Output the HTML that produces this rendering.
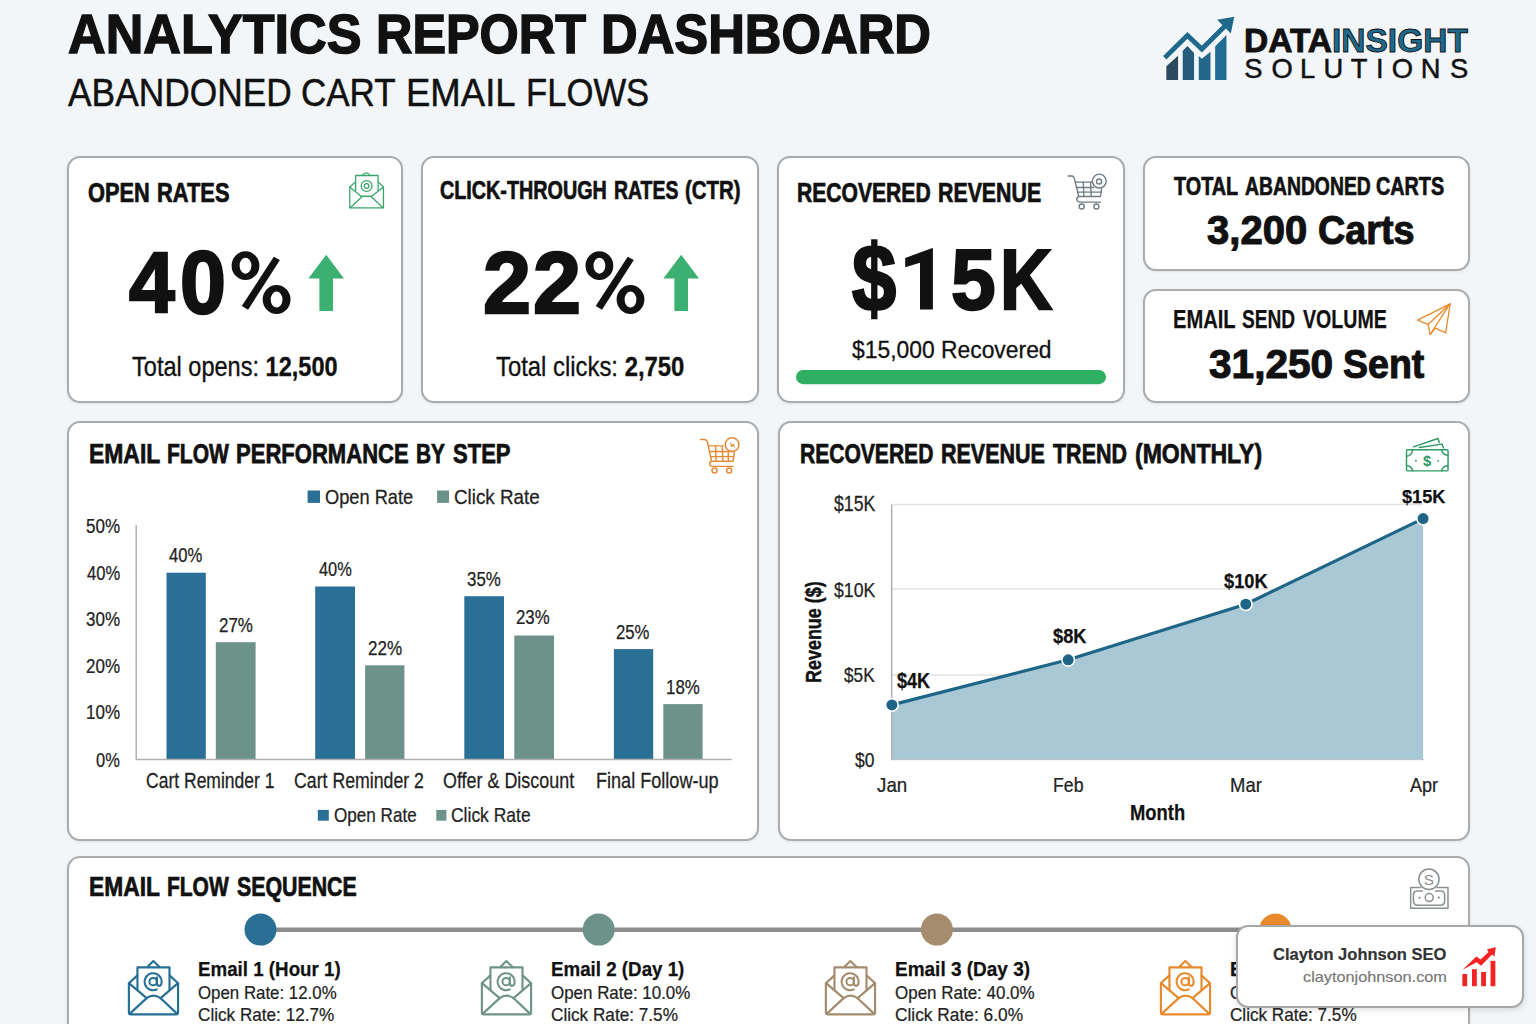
<!DOCTYPE html>
<html><head><meta charset="utf-8"><title>Analytics Report Dashboard</title>
<style>
html,body{margin:0;padding:0}
body{width:1536px;height:1024px;overflow:hidden;position:relative;background:#f3f6f9;font-family:"Liberation Sans",sans-serif}
.t{position:absolute;white-space:nowrap;line-height:1;transform-origin:0 0}
.card{position:absolute;box-sizing:border-box;background:#fff;border:2px solid #a9abad;box-shadow:0 1px 3px rgba(0,0,0,0.08)}
svg{position:absolute;overflow:visible}
</style></head><body>
<div class="card" style="left:67px;top:156px;width:336px;height:247px;border-radius:13px;"></div>
<div class="card" style="left:421px;top:156px;width:338px;height:247px;border-radius:13px;"></div>
<div class="card" style="left:777px;top:156px;width:347.5px;height:247px;border-radius:13px;"></div>
<div class="card" style="left:1143px;top:156px;width:326.5px;height:114.5px;border-radius:13px;"></div>
<div class="card" style="left:1143px;top:288.5px;width:326.5px;height:114.5px;border-radius:13px;"></div>
<div class="card" style="left:67px;top:421px;width:691.5px;height:419.5px;border-radius:13px;"></div>
<div class="card" style="left:777.5px;top:421px;width:692px;height:419.5px;border-radius:13px;"></div>
<div class="card" style="left:67px;top:855.5px;width:1403px;height:204.5px;border-radius:13px;"></div>
<svg style="left:0;top:0" width="1536" height="1024" viewBox="0 0 1536 1024"><line x1="136.2" y1="525" x2="136.2" y2="759.6" stroke="#b0b0b0" stroke-width="1.5"/><rect x="166.5" y="572.7" width="39.3" height="186.9" fill="#2a6f96"/><rect x="215.8" y="642.2" width="39.8" height="117.4" fill="#6d9289"/><rect x="315.2" y="586.5" width="39.8" height="173.1" fill="#2a6f96"/><rect x="365.1" y="665.3" width="39.3" height="94.3" fill="#6d9289"/><rect x="464.3" y="596.2" width="39.7" height="163.4" fill="#2a6f96"/><rect x="514.3" y="635.5" width="39.7" height="124.1" fill="#6d9289"/><rect x="613.9" y="649.1" width="39.3" height="110.5" fill="#2a6f96"/><rect x="663.3" y="704.1" width="39.3" height="55.5" fill="#6d9289"/><line x1="136" y1="759.6" x2="731.7" y2="759.6" stroke="#b0b0b0" stroke-width="1.5"/><rect x="307.6" y="490.5" width="12.4" height="12.4" fill="#2a6f96"/><rect x="437.1" y="490.5" width="11.9" height="12.4" fill="#6d9289"/><rect x="317.8" y="809.9" width="11" height="10.8" fill="#2a6f96"/><rect x="436.3" y="809.9" width="10.1" height="10.8" fill="#6d9289"/><line x1="891.7" y1="504.6" x2="1423" y2="504.6" stroke="#e3e3e3" stroke-width="1.5"/><line x1="891.7" y1="589" x2="1423" y2="589" stroke="#e3e3e3" stroke-width="1.5"/><line x1="891.7" y1="674.9" x2="1423" y2="674.9" stroke="#e3e3e3" stroke-width="1.5"/><polygon points="891.9,704.9 1068.2,659.8 1245.8,604.2 1423.1,518.6 1423.1,759.7 891.9,759.7" fill="#a9c8d6"/><line x1="891.7" y1="504.6" x2="891.7" y2="759.7" stroke="#b0b0b0" stroke-width="1.5"/><line x1="891" y1="759.7" x2="1424" y2="759.7" stroke="#b5c2c8" stroke-width="1"/><polyline points="891.9,704.9 1068.2,659.8 1245.8,604.2 1423.1,518.6" fill="none" stroke="#1e6587" stroke-width="3.2" stroke-linejoin="round"/><circle cx="891.9" cy="704.9" r="6.3" fill="#1e6587" stroke="#fff" stroke-width="1.6"/><circle cx="1068.2" cy="659.8" r="6.3" fill="#1e6587" stroke="#fff" stroke-width="1.6"/><circle cx="1245.8" cy="604.2" r="6.3" fill="#1e6587" stroke="#fff" stroke-width="1.6"/><circle cx="1423.1" cy="518.6" r="6.3" fill="#1e6587" stroke="#fff" stroke-width="1.6"/><polygon points="932.9,248.2 932.9,309.5 920,309.5 920,262.7 905.2,267.3 905.2,258 931.7,248.2" fill="#111"/><path fill-rule="evenodd" fill="#111" d="M231.6,265.65 a13.9,14.45 0 1,0 27.8,0 a13.9,14.45 0 1,0 -27.8,0 Z M239.6,265.65 a5.9,8 0 1,0 11.8,0 a5.9,8 0 1,0 -11.8,0 Z"/><path fill-rule="evenodd" fill="#111" d="M262.7,299.55 a13.9,14.45 0 1,0 27.8,0 a13.9,14.45 0 1,0 -27.8,0 Z M270.7,299.55 a5.9,8 0 1,0 11.8,0 a5.9,8 0 1,0 -11.8,0 Z"/><polygon points="273.8,256.7 279.9,260 248.1,309.8 241.8,306.1" fill="#111"/><path fill-rule="evenodd" fill="#111" d="M585.5,265.65 a13.9,14.45 0 1,0 27.8,0 a13.9,14.45 0 1,0 -27.8,0 Z M593.5,265.65 a5.9,8 0 1,0 11.8,0 a5.9,8 0 1,0 -11.8,0 Z"/><path fill-rule="evenodd" fill="#111" d="M616.6,299.55 a13.9,14.45 0 1,0 27.8,0 a13.9,14.45 0 1,0 -27.8,0 Z M624.6,299.55 a5.9,8 0 1,0 11.8,0 a5.9,8 0 1,0 -11.8,0 Z"/><polygon points="627.7,256.7 633.8,260 602,309.8 595.7,306.1" fill="#111"/><rect x="796" y="370" width="310" height="14.2" rx="7.1" fill="#2faf61"/><polygon points="326.2,254.8 344,278.5 333,278.5 333,311 319.4,311 319.4,278.5 308.4,278.5" fill="#3bb070"/><polygon points="681.2,254.8 699,278.5 688,278.5 688,311 674.4,311 674.4,278.5 663.4,278.5" fill="#3bb070"/><line x1="260" y1="929.8" x2="1300" y2="929.8" stroke="#8d8d8d" stroke-width="4.5"/><circle cx="260.5" cy="929.6" r="16" fill="#2a6f96"/><circle cx="598.7" cy="929.6" r="16" fill="#6d9289"/><circle cx="936.9" cy="929.6" r="16" fill="#a58c6c"/><circle cx="1275.4" cy="929.6" r="16" fill="#e8892c"/></svg>
<svg style="left:1155px;top:10px" width="90" height="80" viewBox="0 0 1152 1024">
<path d="M145,720 L295,585 L295,895 L145,895 Z" fill="#2c4a5c"/>
<path d="M355,520 L415,460 L500,550 L500,895 L355,895 Z" fill="#245c7a"/>
<path d="M560,590 L600,625 L710,535 L710,895 L560,895 Z" fill="#22668a"/>
<path d="M770,465 L915,320 L915,895 L770,895 Z" fill="#206d94"/>
<polyline points="125,610 415,325 600,500 915,185" fill="none" stroke="#1f6a8c" stroke-width="62"/>
<path d="M795,125 L1015,85 L970,300 Z" fill="#1f6a8c"/>
</svg>
<svg style="left:340px;top:165px" width="52" height="50" viewBox="0 0 1065 1024"><g fill="none" stroke="#3aa56a" stroke-width="26" stroke-linejoin="round" stroke-linecap="round">
<path d="M200,450 L200,880 L890,880 L890,450"/>
<path d="M200,450 L320,345 M890,450 L780,345"/>
<path d="M320,520 L320,215 L780,215 L780,520"/>
<path d="M455,210 Q545,110 610,210"/>
<path d="M205,455 L430,640 L650,640 L885,455"/>
<path d="M215,870 L450,650 M875,870 L640,650"/>
<circle cx="545" cy="430" r="112"/>
<circle cx="545" cy="430" r="48"/>
</g></svg>
<svg style="left:1060px;top:165px" width="52" height="50" viewBox="0 0 1065 1024"><g fill="none" stroke="#6e7d82" stroke-width="28" stroke-linejoin="round" stroke-linecap="round">
<path d="M165,225 L250,225 Q285,230 300,300 L385,645 L830,645 L850,490"/>
<path d="M310,350 L650,350"/>
<path d="M335,460 L690,460 M360,555 L845,555"/>
<path d="M475,350 L490,645 M625,350 L640,645"/>
<path d="M385,645 Q335,665 345,710 Q355,760 420,760 L830,760"/>
<circle cx="445" cy="850" r="52"/>
<circle cx="745" cy="850" r="52"/>
<circle cx="805" cy="330" r="142"/>
<circle cx="800" cy="338" r="52"/>
</g></svg>
<svg style="left:694px;top:430px" width="52" height="50" viewBox="0 0 1065 1024"><g fill="none" stroke="#e58b37" stroke-width="30" stroke-linejoin="round" stroke-linecap="round">
<path d="M135,195 L225,195 Q265,200 280,270 L360,640 L800,640 L825,470"/>
<path d="M300,325 L600,325"/>
<path d="M320,440 L830,440 M340,545 L815,545"/>
<path d="M440,325 L455,640 M580,345 L590,640 M700,440 L705,640"/>
<path d="M360,640 Q310,660 320,705 Q330,745 390,745 L800,745"/>
<circle cx="420" cy="830" r="52"/>
<circle cx="720" cy="830" r="52"/>
<circle cx="780" cy="300" r="140"/>
<path d="M745,265 L770,340 L800,290 L830,345" stroke-width="22"/>
</g></svg>
<svg style="left:1410px;top:298px" width="48" height="44" viewBox="0 0 1117 1024"><g fill="none" stroke="#e8892a" stroke-width="30" stroke-linejoin="round" stroke-linecap="round">
<path d="M175,515 L935,135 L830,810 L590,700 L470,850 L420,615 Z"/>
<path d="M420,615 L935,135 M470,850 L920,150"/>
</g></svg>
<svg style="left:1400px;top:432px" width="56" height="46" viewBox="0 0 1247 1024"><g fill="none" stroke="#2e9a63" stroke-width="32" stroke-linejoin="round" stroke-linecap="round">
<rect x="145" y="395" width="925" height="470" rx="22"/>
<path d="M300,330 L845,145 L875,235 M430,345 L935,270 L970,355"/>
<path d="M145,540 Q265,530 280,400 M1070,520 Q940,510 925,400 M145,745 Q265,760 285,865 M1070,750 Q940,760 925,865"/>
</g>
<circle cx="355" cy="640" r="20" fill="#2e9a63"/><circle cx="850" cy="645" r="20" fill="#2e9a63"/>
<text x="605" y="765" font-family="Liberation Sans" font-weight="700" font-size="330" text-anchor="middle" fill="#2e9a63">$</text></svg>
<svg style="left:1400px;top:862px" width="56" height="52" viewBox="0 0 1103 1024"><g fill="none" stroke="#8b9092" stroke-width="30" stroke-linejoin="round">
<circle cx="570" cy="340" r="200"/>
<path d="M420,500 L210,500 L210,910 L945,910 L945,500 L720,500"/>
<path d="M450,570 L330,570 Q265,575 265,650 L265,770 Q270,845 340,850 L810,850 Q880,845 880,770 L880,650 Q875,570 810,570 L690,570"/>
<circle cx="575" cy="700" r="78"/>
</g>
<circle cx="385" cy="705" r="22" fill="#8b9092"/><circle cx="765" cy="700" r="22" fill="#8b9092"/>
<text x="570" y="455" font-family="Liberation Sans" font-size="300" text-anchor="middle" fill="#8b9092">S</text></svg>
<svg style="left:120px;top:955px" width="70" height="65" viewBox="0 0 1103 1024"><g fill="none" stroke="#256f95" stroke-width="34" stroke-linejoin="round" stroke-linecap="round">
<path d="M140,445 L140,905 Q140,935 170,935 L885,935 Q915,935 915,905 L915,445"/>
<path d="M140,445 L270,325 M915,445 L785,325"/>
<path d="M275,545 L275,195 L780,195 L780,545"/>
<path d="M435,185 L525,95 L620,185"/>
<path d="M150,450 L420,680 M905,450 L640,680"/>
<path d="M420,680 Q525,600 640,680"/>
<path d="M160,920 L420,680 M895,920 L640,680"/>
</g>
<g fill="none" stroke="#256f95" stroke-width="32" stroke-linecap="round">
<circle cx="522" cy="420" r="58"/>
<path d="M582,352 L582,450 Q586,488 622,486 Q655,480 656,420 A134,134 0 1 0 580,541"/>
</g></svg>
<svg style="left:472.7px;top:955px" width="70" height="65" viewBox="0 0 1103 1024"><g fill="none" stroke="#6f9389" stroke-width="34" stroke-linejoin="round" stroke-linecap="round">
<path d="M140,445 L140,905 Q140,935 170,935 L885,935 Q915,935 915,905 L915,445"/>
<path d="M140,445 L270,325 M915,445 L785,325"/>
<path d="M275,545 L275,195 L780,195 L780,545"/>
<path d="M435,185 L525,95 L620,185"/>
<path d="M150,450 L420,680 M905,450 L640,680"/>
<path d="M420,680 Q525,600 640,680"/>
<path d="M160,920 L420,680 M895,920 L640,680"/>
</g>
<g fill="none" stroke="#6f9389" stroke-width="32" stroke-linecap="round">
<circle cx="522" cy="420" r="58"/>
<path d="M582,352 L582,450 Q586,488 622,486 Q655,480 656,420 A134,134 0 1 0 580,541"/>
</g></svg>
<svg style="left:817.2px;top:955px" width="70" height="65" viewBox="0 0 1103 1024"><g fill="none" stroke="#a38c6d" stroke-width="34" stroke-linejoin="round" stroke-linecap="round">
<path d="M140,445 L140,905 Q140,935 170,935 L885,935 Q915,935 915,905 L915,445"/>
<path d="M140,445 L270,325 M915,445 L785,325"/>
<path d="M275,545 L275,195 L780,195 L780,545"/>
<path d="M435,185 L525,95 L620,185"/>
<path d="M150,450 L420,680 M905,450 L640,680"/>
<path d="M420,680 Q525,600 640,680"/>
<path d="M160,920 L420,680 M895,920 L640,680"/>
</g>
<g fill="none" stroke="#a38c6d" stroke-width="32" stroke-linecap="round">
<circle cx="522" cy="420" r="58"/>
<path d="M582,352 L582,450 Q586,488 622,486 Q655,480 656,420 A134,134 0 1 0 580,541"/>
</g></svg>
<svg style="left:1151.7px;top:955px" width="70" height="65" viewBox="0 0 1103 1024"><g fill="none" stroke="#e78a2e" stroke-width="34" stroke-linejoin="round" stroke-linecap="round">
<path d="M140,445 L140,905 Q140,935 170,935 L885,935 Q915,935 915,905 L915,445"/>
<path d="M140,445 L270,325 M915,445 L785,325"/>
<path d="M275,545 L275,195 L780,195 L780,545"/>
<path d="M435,185 L525,95 L620,185"/>
<path d="M150,450 L420,680 M905,450 L640,680"/>
<path d="M420,680 Q525,600 640,680"/>
<path d="M160,920 L420,680 M895,920 L640,680"/>
</g>
<g fill="none" stroke="#e78a2e" stroke-width="32" stroke-linecap="round">
<circle cx="522" cy="420" r="58"/>
<path d="M582,352 L582,450 Q586,488 622,486 Q655,480 656,420 A134,134 0 1 0 580,541"/>
</g></svg>
<div class="t" style="left:68.00px;top:7.11px;font-size:55.24px;font-weight:700;color:#111;transform:scaleX(0.9435);-webkit-text-stroke:1.49px #111">ANALYTICS</div>
<div class="t" style="left:376.36px;top:7.11px;font-size:55.24px;font-weight:700;color:#111;transform:scaleX(0.9123);-webkit-text-stroke:1.49px #111">REPORT</div>
<div class="t" style="left:600.94px;top:7.11px;font-size:55.24px;font-weight:700;color:#111;transform:scaleX(0.9192);-webkit-text-stroke:1.49px #111">DASHBOARD</div>
<div class="t" style="left:67.80px;top:73.69px;font-size:38.42px;font-weight:400;color:#111;transform:scaleX(0.9202);-webkit-text-stroke:0.47px #111">ABANDONED</div>
<div class="t" style="left:301.38px;top:73.69px;font-size:38.42px;font-weight:400;color:#111;transform:scaleX(0.9108);-webkit-text-stroke:0.47px #111">CART</div>
<div class="t" style="left:405.95px;top:73.69px;font-size:38.42px;font-weight:400;color:#111;transform:scaleX(0.9509);-webkit-text-stroke:0.47px #111">EMAIL</div>
<div class="t" style="left:526.29px;top:73.69px;font-size:38.42px;font-weight:400;color:#111;transform:scaleX(0.9023);-webkit-text-stroke:0.47px #111">FLOWS</div>
<div class="t" style="left:1244.33px;top:22.82px;font-size:33.99px;font-weight:700;color:#111;transform:scaleX(0.9853);-webkit-text-stroke:0.92px #111">DATA<span style="color:#1f6a8c">INSIGHT</span></div>
<div class="t" style="left:87.50px;top:179.10px;font-size:27.27px;font-weight:700;color:#111;transform:scaleX(0.7987);-webkit-text-stroke:0.74px #111">OPEN</div>
<div class="t" style="left:156.80px;top:179.10px;font-size:27.27px;font-weight:700;color:#111;transform:scaleX(0.8022);-webkit-text-stroke:0.74px #111">RATES</div>
<div class="t" style="left:129.40px;top:240.34px;font-size:85.73px;font-weight:700;color:#111;transform:scaleX(0.9604);-webkit-text-stroke:2.32px #111">4</div>
<div class="t" style="left:179.82px;top:239.09px;font-size:88.11px;font-weight:700;color:#111;transform:scaleX(0.9378);-webkit-text-stroke:2.38px #111">0</div>
<div class="t" style="left:132.00px;top:352.62px;font-size:27.13px;font-weight:400;color:#111;transform:scaleX(0.8686);-webkit-text-stroke:0.33px #111">Total opens: <b>12,500</b></div>
<div class="t" style="left:439.93px;top:177.95px;font-size:25.59px;font-weight:700;color:#111;transform:scaleX(0.7724);-webkit-text-stroke:0.69px #111">CLICK-THROUGH</div>
<div class="t" style="left:613.54px;top:177.95px;font-size:25.59px;font-weight:700;color:#111;transform:scaleX(0.7590);-webkit-text-stroke:0.69px #111">RATES</div>
<div class="t" style="left:684.80px;top:177.95px;font-size:25.59px;font-weight:700;color:#111;transform:scaleX(0.7971);-webkit-text-stroke:0.69px #111">(CTR)</div>
<div class="t" style="left:483.21px;top:239.26px;font-size:86.99px;font-weight:700;color:#111;transform:scaleX(0.9932);-webkit-text-stroke:2.35px #111">2</div>
<div class="t" style="left:533.21px;top:239.26px;font-size:86.99px;font-weight:700;color:#111;transform:scaleX(0.9932);-webkit-text-stroke:2.35px #111">2</div>
<div class="t" style="left:496.00px;top:352.62px;font-size:27.13px;font-weight:400;color:#111;transform:scaleX(0.8798);-webkit-text-stroke:0.33px #111">Total clicks: <b>2,750</b></div>
<div class="t" style="left:797.03px;top:179.10px;font-size:27.27px;font-weight:700;color:#111;transform:scaleX(0.7737);-webkit-text-stroke:0.74px #111">RECOVERED</div>
<div class="t" style="left:938.22px;top:179.10px;font-size:27.27px;font-weight:700;color:#111;transform:scaleX(0.7824);-webkit-text-stroke:0.74px #111">REVENUE</div>
<div class="t" style="left:851.70px;top:231.59px;font-size:94.26px;font-weight:700;color:#111;transform:scaleX(0.8423);-webkit-text-stroke:2.55px #111">$</div>
<div class="t" style="left:950.77px;top:236.96px;font-size:85.94px;font-weight:700;color:#111;transform:scaleX(0.9348);-webkit-text-stroke:2.32px #111">5</div>
<div class="t" style="left:999.91px;top:237.06px;font-size:85.24px;font-weight:700;color:#111;transform:scaleX(0.8475);-webkit-text-stroke:2.30px #111">K</div>
<div class="t" style="left:852.00px;top:338.90px;font-size:23.42px;font-weight:400;color:#111;transform:scaleX(0.9768);-webkit-text-stroke:0.29px #111">$15,000 Recovered</div>
<div class="t" style="left:1173.60px;top:174.43px;font-size:25.03px;font-weight:700;color:#111;transform:scaleX(0.7914);-webkit-text-stroke:0.68px #111">TOTAL</div>
<div class="t" style="left:1244.50px;top:174.43px;font-size:25.03px;font-weight:700;color:#111;transform:scaleX(0.7735);-webkit-text-stroke:0.68px #111">ABANDONED</div>
<div class="t" style="left:1376.31px;top:174.43px;font-size:25.03px;font-weight:700;color:#111;transform:scaleX(0.7906);-webkit-text-stroke:0.68px #111">CARTS</div>
<div class="t" style="left:1206.50px;top:211.30px;font-size:40.28px;font-weight:700;color:#111;transform:scaleX(0.9940);-webkit-text-stroke:1.09px #111">3,200</div>
<div class="t" style="left:1318.36px;top:211.30px;font-size:40.28px;font-weight:700;color:#111;transform:scaleX(0.9376);-webkit-text-stroke:1.09px #111">Carts</div>
<div class="t" style="left:1173.41px;top:306.77px;font-size:25.36px;font-weight:700;color:#111;transform:scaleX(0.7936);-webkit-text-stroke:0.25px #111">EMAIL</div>
<div class="t" style="left:1242.14px;top:306.77px;font-size:25.36px;font-weight:700;color:#111;transform:scaleX(0.7551);-webkit-text-stroke:0.25px #111">SEND</div>
<div class="t" style="left:1303.10px;top:306.77px;font-size:25.36px;font-weight:700;color:#111;transform:scaleX(0.7722);-webkit-text-stroke:0.25px #111">VOLUME</div>
<div class="t" style="left:1208.50px;top:343.94px;font-size:40.00px;font-weight:700;color:#111;transform:scaleX(1.0145);-webkit-text-stroke:1.08px #111">31,250</div>
<div class="t" style="left:1343.36px;top:343.94px;font-size:40.00px;font-weight:700;color:#111;transform:scaleX(0.9384);-webkit-text-stroke:1.08px #111">Sent</div>
<div class="t" style="left:88.57px;top:440.04px;font-size:27.69px;font-weight:700;color:#111;transform:scaleX(0.8271);-webkit-text-stroke:0.75px #111">EMAIL</div>
<div class="t" style="left:166.74px;top:440.04px;font-size:27.69px;font-weight:700;color:#111;transform:scaleX(0.7593);-webkit-text-stroke:0.75px #111">FLOW</div>
<div class="t" style="left:236.40px;top:440.04px;font-size:27.69px;font-weight:700;color:#111;transform:scaleX(0.7963);-webkit-text-stroke:0.75px #111">PERFORMANCE</div>
<div class="t" style="left:416.25px;top:440.04px;font-size:27.69px;font-weight:700;color:#111;transform:scaleX(0.7526);-webkit-text-stroke:0.75px #111">BY</div>
<div class="t" style="left:452.90px;top:440.04px;font-size:27.69px;font-weight:700;color:#111;transform:scaleX(0.7958);-webkit-text-stroke:0.75px #111">STEP</div>
<div class="t" style="left:324.54px;top:485.65px;font-size:21.14px;font-weight:400;color:#222;transform:scaleX(0.8634);-webkit-text-stroke:0.26px #222">Open Rate</div>
<div class="t" style="left:453.51px;top:485.65px;font-size:21.14px;font-weight:400;color:#222;transform:scaleX(0.8905);-webkit-text-stroke:0.26px #222">Click Rate</div>
<div class="t" style="left:86.14px;top:517.07px;font-size:19.71px;font-weight:400;color:#222;transform:scaleX(0.8632);-webkit-text-stroke:0.24px #222">50%</div>
<div class="t" style="left:87.00px;top:563.97px;font-size:19.71px;font-weight:400;color:#222;transform:scaleX(0.8410);-webkit-text-stroke:0.24px #222">40%</div>
<div class="t" style="left:86.14px;top:609.67px;font-size:19.71px;font-weight:400;color:#222;transform:scaleX(0.8632);-webkit-text-stroke:0.24px #222">30%</div>
<div class="t" style="left:86.14px;top:657.07px;font-size:19.71px;font-weight:400;color:#222;transform:scaleX(0.8632);-webkit-text-stroke:0.24px #222">20%</div>
<div class="t" style="left:86.14px;top:703.27px;font-size:19.71px;font-weight:400;color:#222;transform:scaleX(0.8632);-webkit-text-stroke:0.24px #222">10%</div>
<div class="t" style="left:96.18px;top:749.52px;font-size:19.99px;font-weight:400;color:#222;transform:scaleX(0.8222);-webkit-text-stroke:0.24px #222">0%</div>
<div class="t" style="left:169.00px;top:545.10px;font-size:20.14px;font-weight:400;color:#222;transform:scaleX(0.8250);-webkit-text-stroke:0.25px #222">40%</div>
<div class="t" style="left:218.56px;top:615.40px;font-size:20.14px;font-weight:400;color:#222;transform:scaleX(0.8410);-webkit-text-stroke:0.25px #222">27%</div>
<div class="t" style="left:318.50px;top:559.22px;font-size:19.99px;font-weight:400;color:#222;transform:scaleX(0.8200);-webkit-text-stroke:0.24px #222">40%</div>
<div class="t" style="left:367.56px;top:638.48px;font-size:20.28px;font-weight:400;color:#222;transform:scaleX(0.8410);-webkit-text-stroke:0.25px #222">22%</div>
<div class="t" style="left:466.67px;top:568.68px;font-size:20.28px;font-weight:400;color:#222;transform:scaleX(0.8333);-webkit-text-stroke:0.25px #222">35%</div>
<div class="t" style="left:516.44px;top:607.99px;font-size:19.57px;font-weight:400;color:#222;transform:scaleX(0.8579);-webkit-text-stroke:0.24px #222">23%</div>
<div class="t" style="left:616.09px;top:622.24px;font-size:20.57px;font-weight:400;color:#222;transform:scaleX(0.8125);-webkit-text-stroke:0.25px #222">25%</div>
<div class="t" style="left:665.78px;top:676.84px;font-size:20.57px;font-weight:400;color:#222;transform:scaleX(0.8200);-webkit-text-stroke:0.25px #222">18%</div>
<div class="t" style="left:145.71px;top:769.97px;font-size:22.28px;font-weight:400;color:#222;transform:scaleX(0.7870);-webkit-text-stroke:0.27px #222">Cart Reminder 1</div>
<div class="t" style="left:294.10px;top:769.97px;font-size:22.28px;font-weight:400;color:#222;transform:scaleX(0.7957);-webkit-text-stroke:0.27px #222">Cart Reminder 2</div>
<div class="t" style="left:442.90px;top:769.97px;font-size:22.28px;font-weight:400;color:#222;transform:scaleX(0.8049);-webkit-text-stroke:0.27px #222">Offer &amp; Discount</div>
<div class="t" style="left:596.08px;top:769.97px;font-size:22.28px;font-weight:400;color:#222;transform:scaleX(0.8122);-webkit-text-stroke:0.27px #222">Final Follow-up</div>
<div class="t" style="left:333.84px;top:805.42px;font-size:19.99px;font-weight:400;color:#222;transform:scaleX(0.8558);-webkit-text-stroke:0.24px #222">Open Rate</div>
<div class="t" style="left:451.43px;top:805.42px;font-size:19.99px;font-weight:400;color:#222;transform:scaleX(0.8744);-webkit-text-stroke:0.24px #222">Click Rate</div>
<div class="t" style="left:799.64px;top:440.04px;font-size:27.69px;font-weight:700;color:#111;transform:scaleX(0.7603);-webkit-text-stroke:0.75px #111">RECOVERED</div>
<div class="t" style="left:941.32px;top:440.04px;font-size:27.69px;font-weight:700;color:#111;transform:scaleX(0.7759);-webkit-text-stroke:0.75px #111">REVENUE</div>
<div class="t" style="left:1052.50px;top:440.04px;font-size:27.69px;font-weight:700;color:#111;transform:scaleX(0.7758);-webkit-text-stroke:0.75px #111">TREND</div>
<div class="t" style="left:1135.47px;top:440.04px;font-size:27.69px;font-weight:700;color:#111;transform:scaleX(0.8318);-webkit-text-stroke:0.75px #111">(MONTHLY)</div>
<div class="t" style="left:833.80px;top:494.43px;font-size:21.28px;font-weight:400;color:#222;transform:scaleX(0.8306);-webkit-text-stroke:0.26px #222">$15K</div>
<div class="t" style="left:833.80px;top:579.89px;font-size:20.85px;font-weight:400;color:#222;transform:scaleX(0.8479);-webkit-text-stroke:0.25px #222">$10K</div>
<div class="t" style="left:843.90px;top:665.79px;font-size:19.57px;font-weight:400;color:#222;transform:scaleX(0.8800);-webkit-text-stroke:0.24px #222">$5K</div>
<div class="t" style="left:854.90px;top:749.74px;font-size:20.57px;font-weight:400;color:#222;transform:scaleX(0.8500);-webkit-text-stroke:0.25px #222">$0</div>
<div class="t" style="left:896.80px;top:670.27px;font-size:21.58px;font-weight:700;color:#111;transform:scaleX(0.8359);-webkit-text-stroke:0.25px #111">$4K</div>
<div class="t" style="left:1052.50px;top:626.47px;font-size:20.06px;font-weight:700;color:#111;transform:scaleX(0.9111);-webkit-text-stroke:0.25px #111">$8K</div>
<div class="t" style="left:1224.40px;top:571.03px;font-size:19.99px;font-weight:700;color:#111;transform:scaleX(0.9128);-webkit-text-stroke:0.25px #111">$10K</div>
<div class="t" style="left:1401.90px;top:486.84px;font-size:19.26px;font-weight:700;color:#111;transform:scaleX(0.9435);-webkit-text-stroke:0.25px #111">$15K</div>
<div class="t" style="left:876.90px;top:774.72px;font-size:19.99px;font-weight:400;color:#222;transform:scaleX(0.9387);-webkit-text-stroke:0.24px #222">Jan</div>
<div class="t" style="left:1053.12px;top:774.72px;font-size:19.99px;font-weight:400;color:#222;transform:scaleX(0.8848);-webkit-text-stroke:0.24px #222">Feb</div>
<div class="t" style="left:1229.88px;top:774.72px;font-size:19.99px;font-weight:400;color:#222;transform:scaleX(0.9242);-webkit-text-stroke:0.24px #222">Mar</div>
<div class="t" style="left:1410.00px;top:774.72px;font-size:19.99px;font-weight:400;color:#222;transform:scaleX(0.9032);-webkit-text-stroke:0.24px #222">Apr</div>
<div class="t" style="left:1129.58px;top:801.76px;font-size:22.31px;font-weight:700;color:#111;transform:scaleX(0.8246);-webkit-text-stroke:0.25px #111">Month</div>
<div class="t" style="left:88.76px;top:874.35px;font-size:26.99px;font-weight:700;color:#111;transform:scaleX(0.8446);-webkit-text-stroke:0.73px #111">EMAIL</div>
<div class="t" style="left:166.72px;top:874.35px;font-size:26.99px;font-weight:700;color:#111;transform:scaleX(0.7772);-webkit-text-stroke:0.73px #111">FLOW</div>
<div class="t" style="left:236.70px;top:874.35px;font-size:26.99px;font-weight:700;color:#111;transform:scaleX(0.7907);-webkit-text-stroke:0.73px #111">SEQUENCE</div>
<div class="t" style="left:198.00px;top:959.39px;font-size:20.86px;font-weight:700;color:#111;transform:scaleX(0.8987);-webkit-text-stroke:0.25px #111">Email 1 (Hour 1)</div>
<div class="t" style="left:198.00px;top:983.63px;font-size:18.64px;font-weight:400;color:#222;transform:scaleX(0.9046);-webkit-text-stroke:0.23px #222">Open Rate: 12.0%</div>
<div class="t" style="left:197.98px;top:1006.04px;font-size:18.57px;font-weight:400;color:#222;transform:scaleX(0.9236);-webkit-text-stroke:0.23px #222">Click Rate: 12.7%</div>
<div class="t" style="left:550.90px;top:959.39px;font-size:20.86px;font-weight:700;color:#111;transform:scaleX(0.8986);-webkit-text-stroke:0.25px #111">Email 2 (Day 1)</div>
<div class="t" style="left:550.89px;top:983.63px;font-size:18.64px;font-weight:400;color:#222;transform:scaleX(0.9092);-webkit-text-stroke:0.23px #222">Open Rate: 10.0%</div>
<div class="t" style="left:550.88px;top:1006.04px;font-size:18.57px;font-weight:400;color:#222;transform:scaleX(0.9250);-webkit-text-stroke:0.23px #222">Click Rate: 7.5%</div>
<div class="t" style="left:894.99px;top:959.39px;font-size:20.86px;font-weight:700;color:#111;transform:scaleX(0.9103);-webkit-text-stroke:0.25px #111">Email 3 (Day 3)</div>
<div class="t" style="left:894.99px;top:983.63px;font-size:18.64px;font-weight:400;color:#222;transform:scaleX(0.9112);-webkit-text-stroke:0.23px #222">Open Rate: 40.0%</div>
<div class="t" style="left:894.97px;top:1006.04px;font-size:18.57px;font-weight:400;color:#222;transform:scaleX(0.9331);-webkit-text-stroke:0.23px #222">Click Rate: 6.0%</div>
<div class="t" style="left:1230.49px;top:959.39px;font-size:20.86px;font-weight:700;color:#111;transform:scaleX(0.9082);-webkit-text-stroke:0.25px #111">Email 4 (Day 7)</div>
<div class="t" style="left:1230.49px;top:983.63px;font-size:18.64px;font-weight:400;color:#222;transform:scaleX(0.9121);-webkit-text-stroke:0.23px #222">Open Rate: 8.0%</div>
<div class="t" style="left:1253.30px;top:55.43px;width:40px;margin-left:-20px;text-align:center;font-size:27.33px;font-weight:400;color:#111;-webkit-text-stroke:0.5px #111">S</div>
<div class="t" style="left:1282.20px;top:55.43px;width:40px;margin-left:-20px;text-align:center;font-size:27.33px;font-weight:400;color:#111;-webkit-text-stroke:0.5px #111">O</div>
<div class="t" style="left:1307.50px;top:55.43px;width:40px;margin-left:-20px;text-align:center;font-size:27.33px;font-weight:400;color:#111;-webkit-text-stroke:0.5px #111">L</div>
<div class="t" style="left:1333.30px;top:55.43px;width:40px;margin-left:-20px;text-align:center;font-size:27.33px;font-weight:400;color:#111;-webkit-text-stroke:0.5px #111">U</div>
<div class="t" style="left:1359.10px;top:55.43px;width:40px;margin-left:-20px;text-align:center;font-size:27.33px;font-weight:400;color:#111;-webkit-text-stroke:0.5px #111">T</div>
<div class="t" style="left:1379.80px;top:55.43px;width:40px;margin-left:-20px;text-align:center;font-size:27.33px;font-weight:400;color:#111;-webkit-text-stroke:0.5px #111">I</div>
<div class="t" style="left:1402.50px;top:55.43px;width:40px;margin-left:-20px;text-align:center;font-size:27.33px;font-weight:400;color:#111;-webkit-text-stroke:0.5px #111">O</div>
<div class="t" style="left:1430.60px;top:55.43px;width:40px;margin-left:-20px;text-align:center;font-size:27.33px;font-weight:400;color:#111;-webkit-text-stroke:0.5px #111">N</div>
<div class="t" style="left:1459.10px;top:55.43px;width:40px;margin-left:-20px;text-align:center;font-size:27.33px;font-weight:400;color:#111;-webkit-text-stroke:0.5px #111">S</div>
<div class="t" style="left:803.11px;top:683.22px;font-size:21.80px;font-weight:700;color:#111;-webkit-text-stroke:0.4px #111;transform:rotate(-90deg) scaleX(0.8230)">Revenue ($)</div>
<div class="card" style="left:1235.5px;top:925px;width:288px;height:83px;border-radius:12px;border-color:#a8a8a8;box-shadow:0 2px 6px rgba(0,0,0,0.12)"></div>
<svg style="left:1455px;top:940px" width="50" height="52" viewBox="0 0 985 1024">
<rect x="145" y="670" width="95" height="240" fill="#f22323"/>
<rect x="335" y="575" width="95" height="335" fill="#f22323"/>
<rect x="515" y="630" width="95" height="280" fill="#f22323"/>
<rect x="700" y="410" width="95" height="500" fill="#f22323"/>
<path d="M150,585 L420,325 L505,385 L660,235 L630,180 L805,145 L775,330 L730,285 L515,505 L425,440 Z" fill="#f22323"/>
</svg>
<div class="t" style="left:1230.48px;top:1006.04px;font-size:18.57px;font-weight:400;color:#222;transform:scaleX(0.9228);-webkit-text-stroke:0.23px #222">Click Rate: 7.5%</div>
<div class="t" style="left:1272.94px;top:945.86px;font-size:17.15px;font-weight:700;color:#333;transform:scaleX(0.9631);-webkit-text-stroke:0.20px #333">Clayton Johnson SEO</div>
<div class="t" style="left:1303.30px;top:971.23px;font-size:13.90px;font-weight:400;color:#777;transform:scaleX(1.1721);-webkit-text-stroke:0.17px #777">claytonjohnson.com</div>
</body></html>
